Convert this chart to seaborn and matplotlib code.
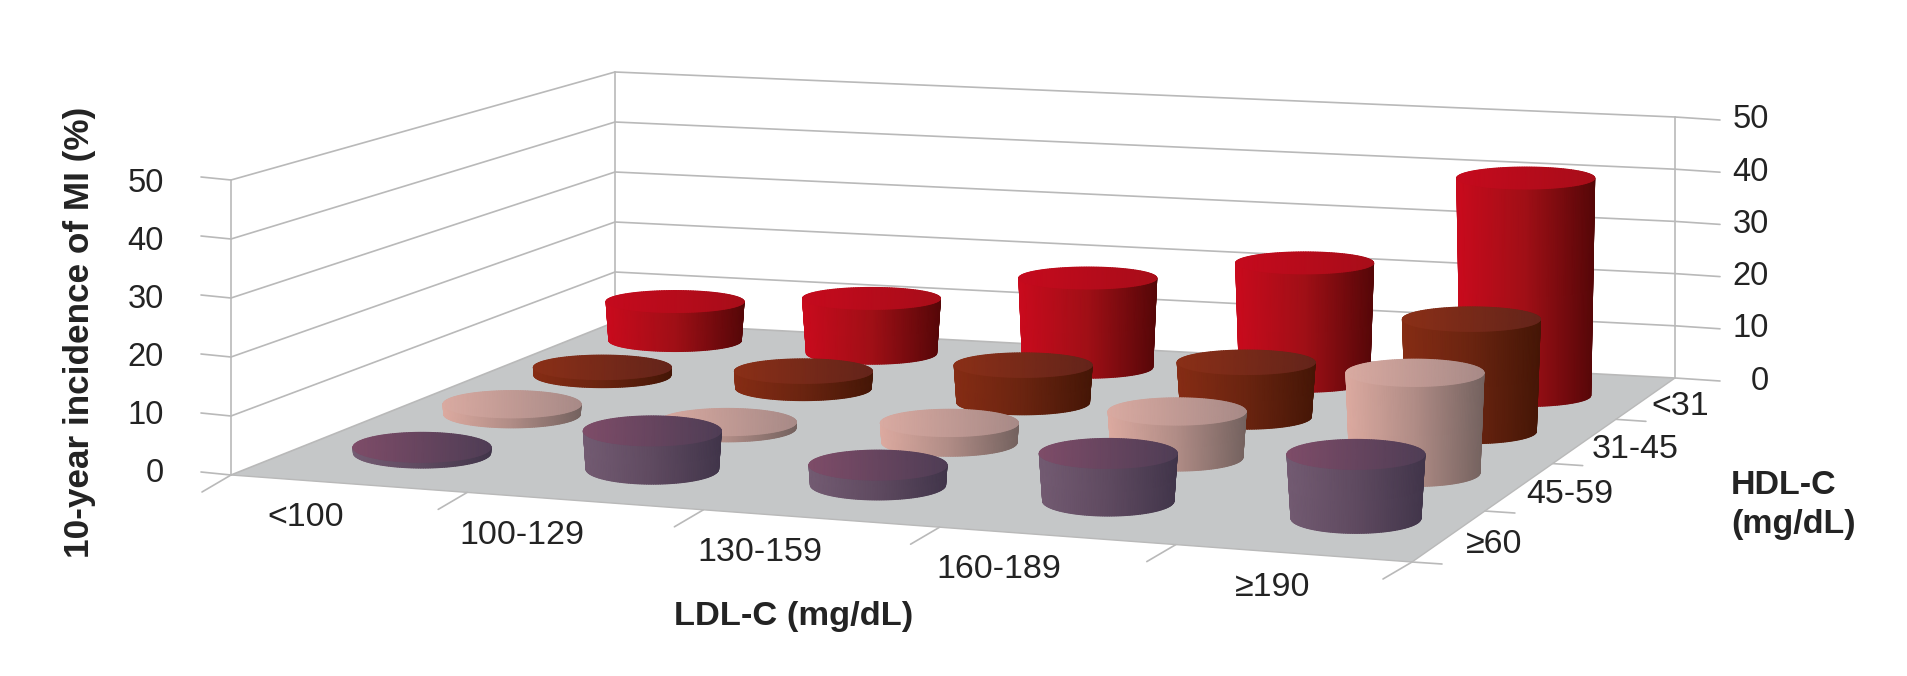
# 10-year MI incidence by LDL-C and HDL-C, drawn as perspective cylinders
import numpy as np
import matplotlib
matplotlib.use('Agg')
import matplotlib.pyplot as plt
import seaborn as sns

# Chart values (percent), one list per HDL-C row, in LDL-C order
ldl_labels = ['<100', '100-129', '130-159', '160-189', '≥190']
hdl_labels = ['≥60', '45-59', '31-45', '<31']
z_ticks = [0, 10, 20, 30, 40, 50]
hdl_ge60 = [1.0, 6.6, 3.4, 8.1, 10.8]
hdl_45_59 = [1.8, 1.1, 3.5, 8.1, 17.5]
hdl_31_45 = [1.5, 3.2, 6.9, 10.0, 20.4]
hdl_lt31 = [7.6, 10.6, 17.1, 22.5, 41.0]
rows = [hdl_ge60, hdl_45_59, hdl_31_45, hdl_lt31]

# Gradient stops, left to right, for the cylinder sides and tops
side_colors = [['#735b72', '#5f4a60', '#41354a'],
               ['#dcaaa0', '#b08c86', '#74625f'],
               ['#862c14', '#6a2410', '#451606'],
               ['#ca0a1d', '#a00f16', '#550708']]
top_colors = [['#7e4c68', '#4f3d55'],
              ['#d9aaa1', '#a88a87'],
              ['#8a2f17', '#64241a'],
              ['#c50a1d', '#a80d19']]

# Floor corners in figure pixels and the look of the scene
FL, BL = np.array([231., 475.]), np.array([615., 322.])
FR, BR = np.array([1412., 562.]), np.array([1675., 378.])
FAR = 1.15
ROW_V = [0.175, 0.41, 0.65, 0.875]
ROW_U = [[0.1, 0.299, 0.494, 0.693, 0.907],
         [0.098, 0.289, 0.486, 0.688, 0.899],
         [0.1, 0.283, 0.483, 0.686, 0.891],
         [0.0955, 0.2785, 0.48, 0.682, 0.888]]
ROW_TILT = [0, 0, 5, 10]
LDL_NUDGE = [-5, -1, 1, 4, 16]
HDL_NUDGE = [17, 7, 7, 5]
TOP_W = 138
GRID = '#b9b9b9'
FLOOR = '#c5c7c8'
INK = '#232323'

sns.set_theme(style='white')
plt.rcParams['font.family'] = ['Liberation Sans', 'DejaVu Sans']

fig = plt.figure(figsize=(19.07, 6.76), dpi=100)
ax = fig.add_axes([0, 0, 1, 1])


def edge(p0, p1, v):
    return (p0 * (1 - v) + p1 * FAR * v) / (1 - v + FAR * v)


def floor_xy(u, v):
    left, right = edge(FL, BL, v), edge(FR, BR, v)
    return left + u * (right - left)


def z_scale(u, v):
    # pixels per percentage point at a floor position
    return (1 - v) * (5.9 + 0.2 * u) + v * (5.0 + 0.22 * u)


def line(p, q, width=1.2):
    sns.lineplot(x=[p[0], q[0]], y=[p[1], q[1]], ax=ax, color=GRID,
                 linewidth=width, sort=False, estimator=None, zorder=2)


def cylinder(cx, base_y, top_y, ell_h, side_cmap, top_cmap, order):
    t = np.linspace(0, np.pi, 90)
    side_h = base_y - top_y
    bot_w = TOP_W - min(8, side_h * 0.14)
    cos, sin = np.cos(t), np.sin(t)
    # side: front half of the top rim down to the front half of the base rim
    xs = np.vstack([cx + TOP_W / 2 * cos, cx + bot_w / 2 * cos])
    ys = np.vstack([top_y + ell_h / 2 * sin, base_y + ell_h / 2 * sin])
    ax.pcolormesh(xs, ys, (xs - xs.min()) / (xs.max() - xs.min()), shading='gouraud',
                  cmap=side_cmap, vmin=0, vmax=1, zorder=order)
    # top cap
    xt = np.vstack([cx + TOP_W / 2 * cos, cx + TOP_W / 2 * cos])
    yt = np.vstack([top_y - ell_h / 2 * sin, top_y + ell_h / 2 * sin])
    ax.pcolormesh(xt, yt, (xt - xt.min()) / (xt.max() - xt.min()), shading='gouraud',
                  cmap=top_cmap, vmin=0, vmax=1, zorder=order + 0.1)


# Floor
ax.fill([FL[0], FR[0], BR[0], BL[0]], [FL[1], FR[1], BR[1], BL[1]], color=FLOOR, lw=0, zorder=1)
line(FL, FR, 1.0)
line(FR, BR, 1.0)

# Walls and their gridlines
for z in z_ticks:
    a = FL - [0, z * z_scale(0, 0)]
    b = BL - [0, z * z_scale(0, 1)]
    c = BR - [0, z * z_scale(1, 1)]
    line(a, b)
    line(b, c)
    line(a, a + [-30, -3])
    line(c, c + [45, 3])
    ax.text(164, 473 - z * 5.78, str(z), ha='right', va='center', fontsize=23.5, color=INK)
    ax.text(1769, 381 - z * 5.22, str(z), ha='right', va='center', fontsize=23.5, color=INK)
for corner, u, v in [(FL, 0, 0), (BL, 0, 1), (BR, 1, 1)]:
    line(corner, corner - [0, 50 * z_scale(u, v)])

# Floor ticks and category labels
for u in np.linspace(0, 1, 6):
    p = floor_xy(u, 0)
    line(p, p + [-29, 17])
for i, v in enumerate(np.linspace(0, 1, 5)):
    p = floor_xy(1, v)
    if i < 4:
        line(p, p + [30, 2])
for name, u, nudge in zip(ldl_labels, [0.1, 0.3, 0.5, 0.7, 0.9], LDL_NUDGE):
    p = floor_xy(u, 0)
    ax.text(p[0] + nudge, p[1] + 34, name, ha='right', va='center', fontsize=24.5, color=INK)
for name, v, nudge in zip(hdl_labels, [0.125, 0.375, 0.625, 0.875], HDL_NUDGE):
    p = floor_xy(1, v)
    ax.text(p[0] + nudge, p[1] + 8, name, ha='left', va='center', fontsize=24.5, color=INK)

# Cylinders, back row first
for r in [3, 2, 1, 0]:
    v = ROW_V[r]
    side_cmap = sns.blend_palette(side_colors[r], as_cmap=True)
    top_cmap = sns.blend_palette(top_colors[r], as_cmap=True)
    ell_h = 30 - 8 * (v - 0.175) / 0.7
    for value, u in zip(rows[r], ROW_U[r]):
        x, y = floor_xy(u, v)
        y = y + ROW_TILT[r] * (u - 0.5)
        cylinder(x, y, y - value * z_scale(u, v), ell_h, side_cmap, top_cmap, 5 + (3 - r))

# Axis titles
ax.text(80, 332, '10-year incidence of MI (%)', rotation=90, ha='center', va='center',
        fontsize=25.3, fontweight='bold', color=INK)
ax.text(794, 617, 'LDL-C (mg/dL)', ha='center', va='center', fontsize=24.8,
        fontweight='bold', color=INK)
ax.text(1731, 505, 'HDL-C\n(mg/dL)', ha='left', va='center', fontsize=24.5,
        fontweight='bold', color=INK, linespacing=1.3)

ax.set_xlim(0, 1907)
ax.set_ylim(676, 0)
ax.axis('off')
fig.savefig('out.png', dpi=100, facecolor='white')
